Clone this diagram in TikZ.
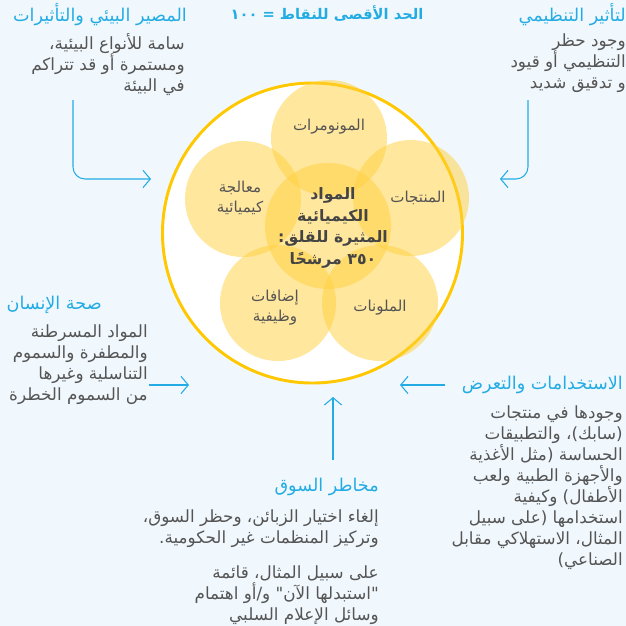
\documentclass[tikz,border=0pt]{standalone}
\usepackage{fontspec}
\usetikzlibrary{arrows.meta}
\newfontfamily\arabicfont[Script=Arabic]{DejaVu Sans}
\TeXXeTstate=1
\newcommand{\rl}[1]{\beginR #1\endR}

\definecolor{paleblue}{RGB}{241,248,253}
\definecolor{headblue}{RGB}{35,172,228}
\definecolor{bodygray}{RGB}{85,85,85}
\definecolor{ringgold}{RGB}{255,200,0}
\definecolor{petalgold}{RGB}{255,208,60}

\begin{document}
\begin{tikzpicture}[x=0.75pt,y=0.75pt,yscale=-1,xscale=1,
  petal/.style={draw opacity=0,fill=petalgold,fill opacity=0.5},
  heading/.style={inner sep=0.75pt,text=headblue,font=\arabicfont\fontsize{13.2}{16}\selectfont},
  body/.style={inner sep=0.75pt,text=bodygray,align=right,anchor=north east,font=\arabicfont\fontsize{12.6}{15.75}\selectfont},
  petaltext/.style={inner sep=0.75pt,text=bodygray,align=center,font=\arabicfont\fontsize{11.3}{15}\selectfont},
  pointer/.style={draw=headblue,line width=0.8pt,-{Straight Barb[length=5.5pt,width=13pt,line width=0.8pt]}}]
\useasboundingbox (0,0) rectangle (626,626);
%Shape: Rectangle
\fill [paleblue] (0,0) rectangle (626,626);

%Shape: Circle
\draw [draw=ringgold,line width=2.2pt,fill=white] (312.5,233) circle [radius=150];
%Shape: Circle
\fill [petal] (329,138) circle [radius=58];
%Shape: Circle
\fill [petal] (243,199) circle [radius=58];
%Shape: Circle
\fill [petal] (411,198) circle [radius=58];
%Shape: Circle
\fill [petal] (278,303) circle [radius=58];
%Shape: Circle
\fill [petal] (380,303) circle [radius=58];
%Shape: Circle
\fill [petal] (328,226) circle [radius=63];

% Text Node
\node [petaltext] (monomers) at (329,127) {\rl{المونومرات}};
% Text Node
\node [petaltext] (products) at (418,198) {\rl{المنتجات}};
% Text Node
\node [petaltext] (processing) at (240,198) {\rl{معالجة}\\\rl{كيميائية}};
% Text Node
\node [petaltext] (additives) at (275,308) {\rl{إضافات}\\\rl{وظيفية}};
% Text Node
\node [petaltext] (colorants) at (380,308) {\rl{الملونات}};
% Text Node
\node [inner sep=0.75pt,text=bodygray!80!black,align=center,font=\arabicfont\bfseries\fontsize{11.8}{16.2}\selectfont] (core) at (333,228)
  {\rl{المواد}\\\rl{الكيميائية}\\\rl{المثيرة للقلق:}\\\rl{٣٥٠ مرشحًا}};

% Text Node
\node [heading,font=\arabicfont\bfseries\fontsize{11}{16}\selectfont] (maxpts) at (327,14) {\rl{الحد الأقصى للنقاط = ١٠٠}};
% Text Node
\node [heading,anchor=east] (fateHead) at (188,15) {\rl{المصير البيئي والتأثيرات}};
% Text Node
\node [body] (fateBody) at (186,32) {\rl{سامة للأنواع البيئية،}\\\rl{ومستمرة أو قد تتراكم}\\\rl{في البيئة}};
% Text Node
\node [heading,anchor=east] (regHead) at (627,15) {\rl{لتأثير التنظيمي}};
% Text Node
\node [body] (regBody) at (627,32) {\rl{وجود حظر}\\\rl{التنظيمي أو قيود}\\\rl{و تدقيق شديد}};
% Text Node
\node [heading,anchor=east] (healthHead) at (103,305) {\rl{صحة الإنسان}};
% Text Node
\node [body] (healthBody) at (149,323) {\rl{المواد المسرطنة}\\\rl{والمطفرة والسموم}\\\rl{التناسلية وغيرها}\\\rl{من السموم الخطرة}};
% Text Node
\node [heading,anchor=east] (useHead) at (624,385) {\rl{الاستخدامات والتعرض}};
% Text Node
\node [body] (useBody) at (624,404) {\rl{وجودها في منتجات}\\\rl{(سابك)، والتطبيقات}\\\rl{الحساسة (مثل الأغذية}\\\rl{والأجهزة الطبية ولعب}\\\rl{الأطفال) وكيفية}\\\rl{استخدامها (على سبيل}\\\rl{المثال، الاستهلاكي مقابل}\\\rl{الصناعي)}};
% Text Node
\node [heading,anchor=east] (marketHead) at (380,487) {\rl{مخاطر السوق}};
% Text Node
\node [body] (marketBody) at (380,508) {\rl{إلغاء اختيار الزبائن، وحظر السوق،}\\\rl{وتركيز المنظمات غير الحكومية.}};
% Text Node
\node [body] (marketNote) at (380,564) {\rl{على سبيل المثال، قائمة}\\\rl{"استبدلها الآن" و/أو اهتمام}\\\rl{وسائل الإعلام السلبي}};

%Straight Lines
\coordinate (fateFrom) at (73,100);
\coordinate (fateTo) at (151,179);
\draw [pointer,rounded corners=9pt] (fateFrom) |- (fateTo);
%Straight Lines
\coordinate (regFrom) at (528,100);
\coordinate (regTo) at (500,179);
\draw [pointer,rounded corners=9pt] (regFrom) |- (regTo);
%Straight Lines
\coordinate (healthFrom) at (149,385);
\coordinate (healthTo) at (189,385);
\draw [pointer] (healthFrom) -- (healthTo);
%Straight Lines
\coordinate (useFrom) at (445,385);
\coordinate (useTo) at (400,385);
\draw [pointer] (useFrom) -- (useTo);
%Straight Lines
\coordinate (marketFrom) at (333,460);
\coordinate (marketTo) at (333,397);
\draw [pointer] (marketFrom) -- (marketTo);

\end{tikzpicture}
\end{document}
